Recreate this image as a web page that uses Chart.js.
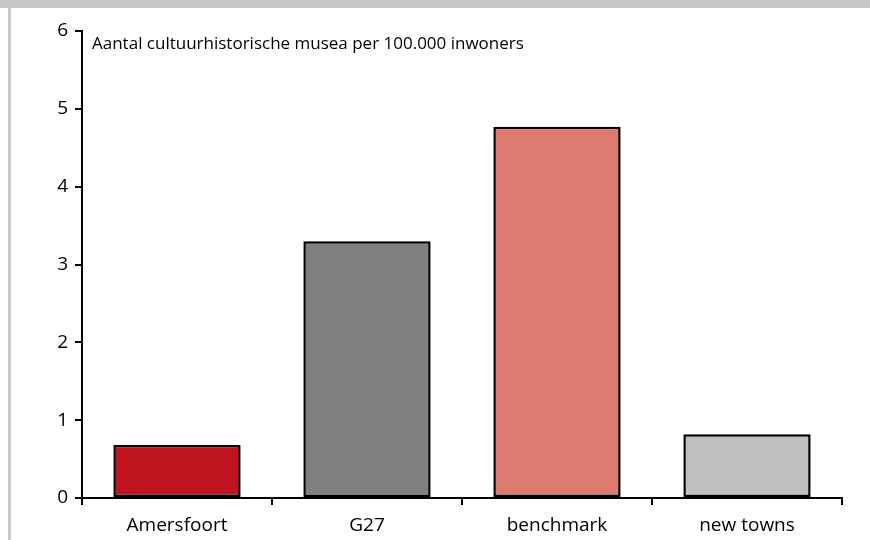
<!DOCTYPE html>
<html>
<head>
<meta charset="utf-8">
<script src="https://cdn.jsdelivr.net/npm/chart.js@4/dist/chart.umd.min.js"></script>
<style>
  html, body { margin: 0; padding: 0; background: #fff; }
  #wrap { position: relative; width: 870px; height: 540px; overflow: hidden; }
  #topband { position: absolute; left: 0; top: 0; width: 870px; height: 8px; background: #c8c8c8; }
  #leftband { position: absolute; left: 8px; top: 0; width: 3px; height: 540px; background: #c8c8c8; }
  #note { position: absolute; left: 92px; top: 34px; font-family: "Open Sans", sans-serif; font-size: 17px; line-height: 17px; color: #000; white-space: nowrap; }
</style>
</head>
<body>
<div id="wrap">
  <canvas id="c" width="870" height="540"></canvas>
  <div id="topband"></div>
  <div id="leftband"></div>
  <div id="note">Aantal cultuurhistorische musea per 100.000 inwoners</div>
</div>
<script>
const categories = ["Amersfoort", "G27", "benchmark", "new towns"];
const values = [0.68, 3.3, 4.77, 0.82];
const barColors = ["#c0141e", "#808080", "#de7b70", "#c0c0c0"];
const yTicks = [0, 1, 2, 3, 4, 5, 6];

const fontFamily = '"Open Sans", sans-serif';

new Chart(document.getElementById("c"), {
  type: "bar",
  data: {
    labels: categories,
    datasets: [{
      data: values,
      backgroundColor: barColors,
      borderColor: "#000",
      borderWidth: 2.5,
      borderSkipped: false,
      barPercentage: 0.67,
      categoryPercentage: 1.0
    }]
  },
  options: {
    responsive: false,
    animation: false,
    devicePixelRatio: 1,
    layout: { padding: { top: 31, right: 28, left: 0, bottom: 0 } },
    plugins: { legend: { display: false }, tooltip: { enabled: false }, title: { display: false } },
    scales: {
      x: {
        offset: true,
        grid: { display: true, drawOnChartArea: false, offset: true, color: "#000", lineWidth: 2, tickLength: 7, tickWidth: 2 },
        border: { display: true, color: "#000", width: 2 },
        ticks: { color: "#000", font: { family: fontFamily, size: 19 }, padding: 9, maxRotation: 0 },
        afterFit: (s) => { s.height = 42; }
      },
      y: {
        min: 0, max: 6,
        afterBuildTicks: (s) => { s.ticks = yTicks.map(v => ({ value: v })); },
        grid: { display: true, drawOnChartArea: false, color: "#000", lineWidth: 2, tickLength: 7, tickWidth: 2 },
        border: { display: true, color: "#000", width: 2 },
        ticks: { color: "#000", font: { family: fontFamily, size: 19 }, padding: 7 },
        afterFit: (s) => { s.width = 82; }
      }
    }
  }
});
</script>
</body>
</html>
